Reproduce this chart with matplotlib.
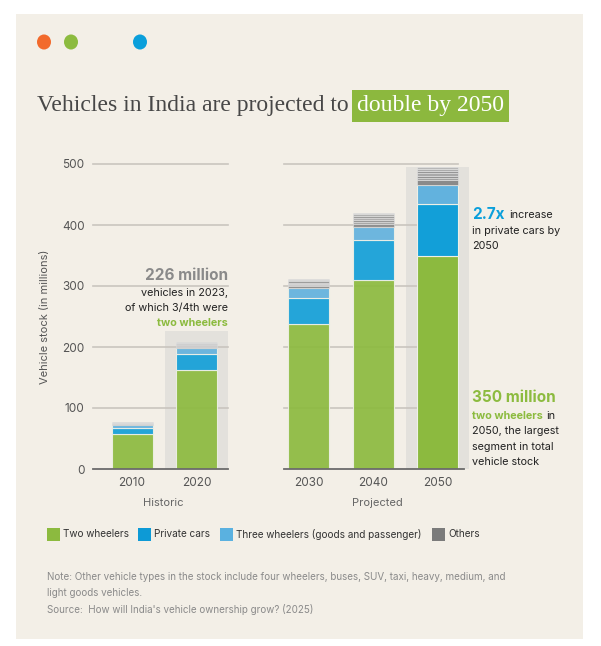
import matplotlib.pyplot as plt
from matplotlib.patches import Rectangle, Circle

# data (millions of vehicles)
hist_years = ['2010', '2020']
proj_years = ['2030', '2040', '2050']
two_wheelers = [58, 162, 237, 310, 350]
private_cars = [10, 26, 44, 65, 85]
three_wheelers = [4, 10, 15, 22, 31]
# other vehicle types stacked as thin grey stripes
others_parts = [
    [1.5, 0.5, 0.5, 0.5, 0.5, 0.5, 1.0],
    [2.5, 1.5, 1.5, 1.0, 1.5, 1.0, 1.0],
    [3.5, 2.0, 2.0, 2.0, 2.0, 2.0, 1.5],
    [5.0, 3.5, 3.0, 3.0, 3.0, 3.0, 2.5],
    [7.0, 4.0, 4.0, 4.0, 3.5, 3.5, 3.0],
]
yticks = [0, 100, 200, 300, 400, 500]
legend_labels = ['Two wheelers', 'Private cars', 'Three wheelers (goods and passenger)', 'Others']

BG = '#f3efe7'
GREEN = '#8cba3f'
BLUE = '#129fd8'
LBLUE = '#62b2de'
BAND = '#e3e1dc'
stripe_cols = ['#8a8a8a', '#a2a2a2', '#929292', '#a9a9a9', '#969696', '#acacac', '#b8b8b8']

W, H = 601, 646
fig = plt.figure(figsize=(W / 100, H / 100), dpi=100, facecolor='white')
plt.rcParams['font.family'] = ['Inter', 'DejaVu Sans']


def fx(px):
    return px / W


def fy(py):
    return 1 - py / H


# beige panel
fig.patches.append(Rectangle((fx(16), fy(639)), fx(583 - 16), (639 - 14) / H,
                             transform=fig.transFigure, facecolor=BG, edgecolor='none', zorder=-10))
for cx, col in [(44, '#f26a2c'), (71, '#8cbb3f'), (140, '#0a9fdb')]:
    fig.patches.append(Circle((fx(cx), fy(42)), 7 / W, transform=fig.transFigure,
                              facecolor=col, edgecolor='none'))

# title, sized so the first part runs from x=37 to x=349
t1 = fig.text(fx(349), fy(106), 'Vehicles in India are projected to', ha='right', va='center',
              fontsize=20, color='#474747', family='Liberation Serif')
t2 = fig.text(fx(357), fy(106), 'double by 2050', ha='left', va='center',
              fontsize=20, color='white', family='Liberation Serif',
              bbox=dict(boxstyle='square,pad=0.22', facecolor='#8cb83e', edgecolor='none'))
fig.canvas.draw()
w = t1.get_window_extent(fig.canvas.get_renderer()).width
size = 20 * 312 / w
t1.set_fontsize(size)
t2.set_fontsize(size)

bottom_px, top_px = 469, 164
ax1 = fig.add_axes([fx(93), fy(bottom_px), fx(228 - 93), (bottom_px - top_px) / H])
ax2 = fig.add_axes([fx(284), fy(bottom_px), fx(469 - 284), (bottom_px - top_px) / H])
spacing = 64.5
ax1.set_xlim((93 - 132) / spacing, (228 - 132) / spacing)
ax2.set_xlim((284 - 308.5) / spacing, (469 - 308.5) / spacing)

bw = 41 / spacing


def draw(ax, idx, labels, band_x0, band_top, grid_end):
    ax.set_facecolor('none')
    ax.set_ylim(0, 500)
    for s in ax.spines.values():
        s.set_visible(False)
    xmin, xmax = ax.get_xlim()
    for t in yticks[1:]:
        ax.plot([xmin, grid_end], [t, t], color='#c9c5bf', lw=1.2, zorder=1, clip_on=False)
    ax.add_patch(Rectangle((band_x0, 0), xmax - band_x0, band_top, facecolor=BAND,
                           edgecolor='none', zorder=0, clip_on=False))
    for j, i in enumerate(idx):
        a = 1.0 if labels[j] == '2050' else 0.92
        b = 0
        for val, col in [(two_wheelers[i], GREEN), (private_cars[i], BLUE), (three_wheelers[i], LBLUE)]:
            ax.bar(j, val, bw, bottom=b, color=col, alpha=a, edgecolor='#eef0e6', lw=0.8, zorder=3)
            b += val
        for k, val in enumerate(others_parts[i]):
            ax.bar(j, val, bw, bottom=b, color=stripe_cols[k], alpha=a,
                   edgecolor='#e6e6e6', lw=0.4, zorder=3)
            b += val
    ax.set_xticks(range(len(labels)))
    ax.set_xticklabels(labels)
    ax.tick_params(axis='x', length=0, pad=6, labelsize=8.5, labelcolor='#555555')


draw(ax1, [0, 1], hist_years, (165 - 132) / spacing, 226, (228 - 132) / spacing)
draw(ax2, [2, 3, 4], proj_years, (406 - 308.5) / spacing, 495, (458 - 308.5) / spacing)
ax1.plot(list(ax1.get_xlim()), [0, 0], color='#6b6b6b', lw=1.3, zorder=4, clip_on=False)
ax2.plot([ax2.get_xlim()[0], (464 - 308.5) / spacing], [0, 0], color='#6b6b6b', lw=1.3,
         zorder=4, clip_on=False)

ax1.set_yticks(yticks)
ax1.tick_params(axis='y', length=0, pad=6, labelsize=8.5, labelcolor='#555555')
ax2.set_yticks([])
ax1.set_ylabel('Vehicle stock (in millions)', fontsize=8, color='#555555', labelpad=9)

fig.text(fx(163), fy(503), 'Historic', ha='center', va='center', fontsize=8, color='#666666')
fig.text(fx(377), fy(503), 'Projected', ha='center', va='center', fontsize=8, color='#666666')

# annotations
fig.text(fx(228), fy(275), '226 million', ha='right', va='center', fontsize=11,
         fontweight='bold', color='#8a8a8a')
fig.text(fx(228), fy(293), 'vehicles in 2023,', ha='right', va='center', fontsize=7.8, color='#222222')
fig.text(fx(228), fy(308), 'of which 3/4th were', ha='right', va='center', fontsize=7.8, color='#222222')
fig.text(fx(228), fy(323), 'two wheelers', ha='right', va='center', fontsize=7.8,
         fontweight='bold', color='#8cbb3f')

fig.text(fx(472), fy(214), '2.7x', ha='left', va='center', fontsize=11,
         fontweight='bold', color='#0a9fdb')
fig.text(fx(509), fy(215), 'increase', ha='left', va='center', fontsize=7.8, color='#222222')
fig.text(fx(472), fy(231), 'in private cars by', ha='left', va='center', fontsize=7.8, color='#222222')
fig.text(fx(472), fy(246), '2050', ha='left', va='center', fontsize=7.8, color='#222222')

fig.text(fx(472), fy(398), '350 million', ha='left', va='center', fontsize=11,
         fontweight='bold', color='#8cbb3f')
fig.text(fx(472), fy(416), 'two wheelers', ha='left', va='center', fontsize=7.8,
         fontweight='bold', color='#8cbb3f')
fig.text(fx(546), fy(416), 'in', ha='left', va='center', fontsize=7.8, color='#222222')
fig.text(fx(472), fy(431), '2050, the largest', ha='left', va='center', fontsize=7.8, color='#222222')
fig.text(fx(472), fy(447), 'segment in total', ha='left', va='center', fontsize=7.8, color='#222222')
fig.text(fx(472), fy(462), 'vehicle stock', ha='left', va='center', fontsize=7.8, color='#222222')

# legend
leg_cols = [GREEN, '#0d9ad6', '#5ab1e0', '#7b7b7b']
leg_x = [47, 138, 220, 432]
for lx, col, lab in zip(leg_x, leg_cols, legend_labels):
    fig.patches.append(Rectangle((fx(lx), fy(541)), fx(13), 13 / H, transform=fig.transFigure,
                                 facecolor=col, edgecolor='none'))
    fig.text(fx(lx + 16), fy(534), lab, ha='left', va='center', fontsize=7.2, color='#333333')

note = ('Note: Other vehicle types in the stock include four wheelers, buses, SUV, taxi, heavy, medium, and\n'
        'light goods vehicles.\n'
        'Source:  How will India\'s vehicle ownership grow? (2025)')
fig.text(fx(47), fy(572), note, ha='left', va='top', fontsize=7.1, color='#8a8a8a', linespacing=1.7)

fig.savefig('out.png', dpi=100, facecolor='white')
